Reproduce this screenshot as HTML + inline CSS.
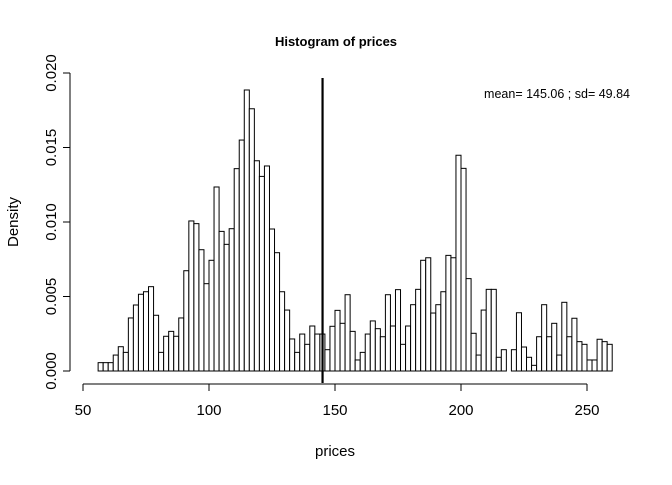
<!DOCTYPE html>
<html><head><meta charset="utf-8"><style>
html,body{margin:0;padding:0;background:#fff}
svg text{font-family:"Liberation Sans",Arial,sans-serif;fill:#000}
</style></head><body>
<svg id="chart" width="672" height="480" viewBox="0 0 672 480" xmlns="http://www.w3.org/2000/svg">
<text x="336" y="46" text-anchor="middle" font-size="13" font-weight="bold">Histogram of prices</text>
<text x="335" y="456" text-anchor="middle" font-size="15">prices</text>
<text x="18" y="222" text-anchor="middle" font-size="15" transform="rotate(-90 18 222)">Density</text>
<text x="630" y="98" text-anchor="end" font-size="12.5">mean= 145.06 ; sd= 49.84</text>
<g id="bars"></g><g id="axes"></g>
</svg>
<script>
const binStarts = [];
for (let b = 56; b < 260; b += 2) binStarts.push(b);
const densities = [0.00056,0.00056,0.00056,0.00107,0.00163,0.00125,0.00356,0.00443,0.00515,0.00532,0.00566,0.00374,0.00125,0.00233,0.00266,0.00233,0.00356,0.00673,0.01007,0.00989,0.00814,0.00586,
0.00743,0.01235,0.00937,0.0085,0.00955,0.01358,0.0155,0.01886,0.0176,0.01411,0.01306,0.01376,0.00953,0.00794,0.00532,0.00409,0.00215,0.00125,0.00248,0.00179,0.00302,0.00248,0.00248,
0.00143,0.003,0.00407,0.0032,0.00512,0.00266,0.00074,0.00125,0.00248,0.00336,0.00284,0.0023,0.00512,0.00302,0.00546,0.00179,0.00302,0.00445,0.00548,0.00743,0.0076,0.00389,0.00445,0.00532,0.00776,0.0076,0.01448,
0.0136,0.0062,0.00253,0.00107,0.00409,0.00548,0.00548,0.00092,0.00143,0,0.00143,0.00391,0.00161,0.00092,0.00038,0.0023,0.00445,0.0023,0.0032,0.00107,0.00461,0.0023,0.00354,0.00197,0.00179,0.00074,0.00074,0.00213,0.00197,0.00179];
const binWidth = 2;
const meanValue = 145.06;
const xTicks = [50,100,150,200,250];
const yTicks = [0,0.005,0.01,0.015,0.02];
const yTickLabels = ["0.000","0.005","0.010","0.015","0.020"];

const X = v => 83 + (v - 50) * 2.52;
const Y = v => 371 - v * 14900;
const NS = "http://www.w3.org/2000/svg";
function mk(tag, attrs, parent){const e=document.createElementNS(NS,tag);for(const k in attrs)e.setAttribute(k,attrs[k]);parent.appendChild(e);return e;}
const bars = document.getElementById('bars'), axes = document.getElementById('axes');
binStarts.forEach((b,i)=>{
  const x0=X(b), x1=X(b+binWidth), y=Y(densities[i]);
  const r = mk('rect',{x:x0,y:y,width:x1-x0,height:Y(0)-y,fill:'#fff',stroke:'#000','stroke-width':1},bars);
  
  
});
const ml = mk('line',{x1:X(meanValue),x2:X(meanValue),y1:78,y2:383,stroke:'#000','stroke-width':2.2},bars);


const xa = mk('line',{x1:X(50),x2:X(250),y1:384,y2:384,stroke:'#000'},axes);


xTicks.forEach(t=>{
  mk('line',{x1:X(t),x2:X(t),y1:384,y2:391,stroke:'#000'},axes);
  const tx = mk('text',{x:X(t),y:415,'text-anchor':'middle','font-size':15},axes);
  tx.textContent=t;
  
  
});
const ya = mk('line',{x1:70,x2:70,y1:Y(0),y2:Y(0.02),stroke:'#000'},axes);


yTicks.forEach((t,i)=>{
  mk('line',{x1:63,x2:70,y1:Y(t),y2:Y(t),stroke:'#000'},axes);
  const tx = mk('text',{x:56,y:Y(t),'text-anchor':'middle','font-size':15,transform:`rotate(-90 56 ${Y(t)})`},axes);
  tx.textContent=yTickLabels[i];
  
  
});
</script>
</body></html>
